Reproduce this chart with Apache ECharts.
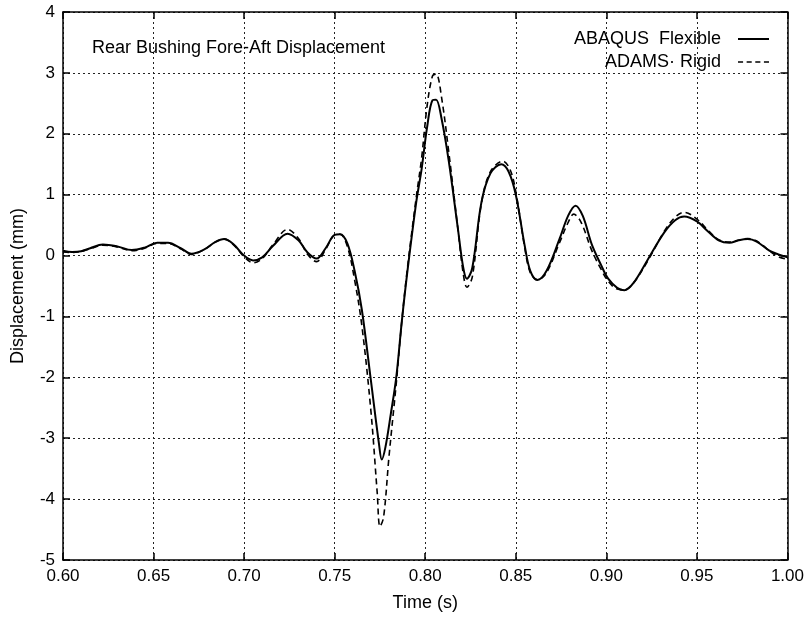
<!DOCTYPE html>
<html>
<head>
<meta charset="utf-8">
<script src="https://cdn.jsdelivr.net/npm/echarts@6/dist/echarts.min.js"></script>
<style>
  html, body { margin: 0; padding: 0; background: #fff; }
  #chart { width: 807px; height: 619px; }
</style>
</head>
<body>
<div id="chart"></div>
<script>
// time samples (s) and displacement (mm)
const flexTime = [0.600, 0.605, 0.610, 0.615, 0.622, 0.630, 0.638, 0.645, 0.652, 0.658, 0.665, 0.671, 0.678, 0.684, 0.689, 0.694, 0.700, 0.705, 0.710, 0.716, 0.724, 0.730, 0.735, 0.740, 0.745, 0.750, 0.753, 0.757, 0.761, 0.765, 0.770, 0.7745, 0.776, 0.778, 0.781, 0.784, 0.787, 0.790, 0.795, 0.798, 0.801, 0.804, 0.806, 0.809, 0.813, 0.818, 0.821, 0.823, 0.826, 0.831, 0.836, 0.842, 0.846, 0.850, 0.855, 0.858, 0.862, 0.867, 0.874, 0.879, 0.883, 0.887, 0.892, 0.897, 0.901, 0.906, 0.910, 0.915, 0.923, 0.932, 0.938, 0.943, 0.950, 0.956, 0.962, 0.968, 0.973, 0.978, 0.983, 0.990, 0.995, 1.000];
const flexDisp = [0.08, 0.06, 0.07, 0.12, 0.18, 0.15, 0.09, 0.13, 0.21, 0.21, 0.12, 0.03, 0.10, 0.22, 0.27, 0.19, 0.00, -0.08, -0.03, 0.16, 0.36, 0.25, 0.05, -0.05, 0.12, 0.34, 0.35, 0.20, -0.25, -0.89, -2.05, -3.10, -3.35, -3.15, -2.60, -2.00, -1.10, -0.30, 0.87, 1.42, 2.10, 2.55, 2.56, 2.25, 1.55, 0.45, -0.20, -0.38, -0.20, 0.87, 1.35, 1.50, 1.38, 1.00, 0.15, -0.25, -0.40, -0.25, 0.26, 0.66, 0.82, 0.65, 0.18, -0.15, -0.38, -0.53, -0.57, -0.45, -0.06, 0.38, 0.58, 0.64, 0.56, 0.40, 0.25, 0.21, 0.25, 0.27, 0.23, 0.08, 0.02, -0.03];

const rigidTime = [0.600, 0.605, 0.610, 0.615, 0.622, 0.630, 0.638, 0.645, 0.652, 0.658, 0.665, 0.671, 0.678, 0.684, 0.689, 0.694, 0.700, 0.705, 0.710, 0.716, 0.724, 0.730, 0.735, 0.740, 0.745, 0.750, 0.753, 0.757, 0.761, 0.765, 0.770, 0.7735, 0.775, 0.777, 0.780, 0.784, 0.787, 0.790, 0.795, 0.798, 0.801, 0.804, 0.806, 0.809, 0.813, 0.818, 0.821, 0.823, 0.826, 0.831, 0.836, 0.843, 0.847, 0.850, 0.855, 0.858, 0.862, 0.867, 0.874, 0.879, 0.882, 0.886, 0.892, 0.897, 0.901, 0.906, 0.910, 0.915, 0.923, 0.932, 0.938, 0.943, 0.950, 0.956, 0.962, 0.968, 0.973, 0.978, 0.983, 0.990, 0.995, 1.000];
const rigidDisp = [0.06, 0.05, 0.07, 0.11, 0.17, 0.14, 0.08, 0.12, 0.20, 0.20, 0.11, 0.02, 0.10, 0.22, 0.27, 0.18, -0.02, -0.12, -0.05, 0.18, 0.43, 0.28, 0.02, -0.10, 0.10, 0.34, 0.35, 0.15, -0.40, -1.15, -2.55, -3.90, -4.45, -4.30, -3.30, -2.10, -1.10, -0.25, 0.95, 1.60, 2.45, 2.95, 2.98, 2.60, 1.70, 0.45, -0.30, -0.52, -0.35, 0.85, 1.38, 1.55, 1.40, 1.05, 0.12, -0.28, -0.40, -0.28, 0.20, 0.55, 0.68, 0.55, 0.08, -0.22, -0.42, -0.55, -0.56, -0.45, -0.08, 0.40, 0.63, 0.71, 0.60, 0.42, 0.26, 0.22, 0.25, 0.28, 0.24, 0.08, -0.02, -0.06];

const seriesNames = ['ABAQUS  Flexible', 'ADAMS· Rigid'];

function zip(xs, ys) {
  return xs.map((x, i) => [x, ys[i]]);
}

const chart = echarts.init(document.getElementById('chart'));
const font = 'Liberation Sans, Arial, sans-serif';
const gridLine = { show: true, lineStyle: { color: '#222', type: [2, 3], width: 1 } };
const frame = { show: true, onZero: false, lineStyle: { color: '#000', width: 1.5 } };
const inTick = { show: true, inside: true, length: 7, lineStyle: { color: '#000', width: 1.5 } };

// legend samples: a plain bar and a row of short dashes
const solidIcon = 'path://M0,0h31v2h-31z';
const dashIcon = 'path://M0,0h5v1.6h-5z M8.5,0h5v1.6h-5z M17,0h5v1.6h-5z M25.5,0h5v1.6h-5z';

const option = {
  animation: false,
  backgroundColor: '#fff',
  textStyle: { fontFamily: font, color: '#000' },
  title: {
    text: 'Rear Bushing Fore-Aft Displacement',
    left: 92,
    top: 39,
    padding: 0,
    textStyle: { fontSize: 18, fontWeight: 'normal', color: '#000', fontFamily: font }
  },
  legend: {
    orient: 'vertical',
    right: 38,
    top: 30,
    align: 'right',
    itemWidth: 31,
    itemHeight: 14,
    itemGap: 5,
    padding: 0,
    itemStyle: { color: '#000', borderWidth: 0 },
    textStyle: { fontSize: 18, color: '#000', fontFamily: font, padding: [0, 12, 0, 0] },
    data: [
      { name: seriesNames[0], icon: solidIcon },
      { name: seriesNames[1], icon: dashIcon }
    ]
  },
  grid: { left: 63, right: 16, top: 12, bottom: 59 },
  xAxis: [
    {
      type: 'value', min: 0.6, max: 1.0, interval: 0.05,
      name: 'Time (s)', nameLocation: 'middle', nameGap: 34,
      nameTextStyle: { fontSize: 18, color: '#000', fontFamily: font },
      axisLine: frame, axisTick: inTick, splitLine: gridLine,
      axisLabel: { fontSize: 17, color: '#000', margin: 8, fontFamily: font,
        formatter: v => v.toFixed(2) }
    },
    {
      type: 'value', position: 'top', min: 0.6, max: 1.0, interval: 0.05,
      axisLine: frame, axisTick: inTick, splitLine: { show: false },
      axisLabel: { show: false }
    }
  ],
  yAxis: [
    {
      type: 'value', min: -5, max: 4, interval: 1,
      name: 'Displacement (mm)', nameLocation: 'middle', nameGap: 36,
      nameTextStyle: { fontSize: 18, color: '#000', fontFamily: font },
      axisLine: frame, axisTick: inTick, splitLine: gridLine,
      axisLabel: { fontSize: 17, color: '#000', margin: 8, fontFamily: font }
    },
    {
      type: 'value', position: 'right', min: -5, max: 4, interval: 1,
      axisLine: frame, axisTick: inTick, splitLine: { show: false },
      axisLabel: { show: false }
    }
  ],
  series: [
    {
      name: seriesNames[0],
      type: 'line',
      data: zip(flexTime, flexDisp),
      smooth: 0.35,
      symbol: 'none',
      lineStyle: { color: '#000', width: 2 },
      itemStyle: { color: '#000' }
    },
    {
      name: seriesNames[1],
      type: 'line',
      data: zip(rigidTime, rigidDisp),
      smooth: 0.35,
      symbol: 'none',
      lineStyle: { color: '#000', width: 1.6, type: [6, 4] },
      itemStyle: { color: '#000' }
    }
  ]
};

chart.setOption(option);
window.addEventListener('resize', function () {
  chart.resize();
});
</script>
</body>
</html>
